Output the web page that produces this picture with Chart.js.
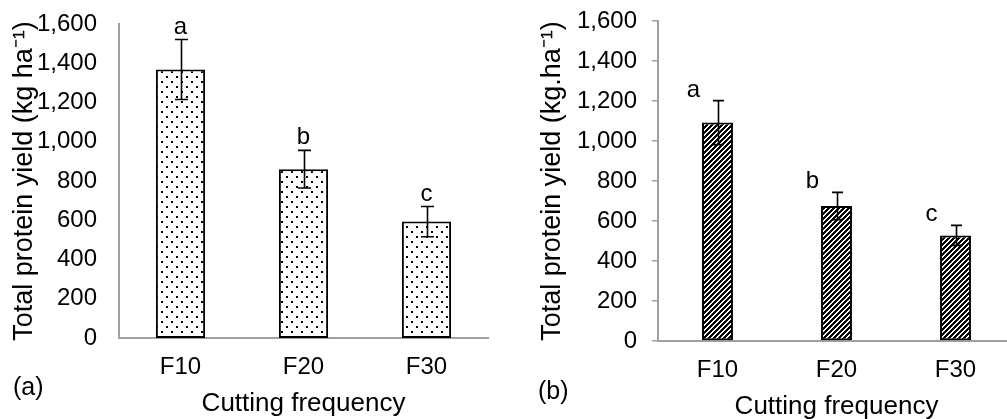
<!DOCTYPE html>
<html lang="en">
<head>
<meta charset="UTF-8">
<title>Total protein yield by cutting frequency</title>
<script src="https://cdn.jsdelivr.net/npm/chart.js"></script>
<style>
    html, body {
        margin: 0;
        padding: 0;
        background: #fff;
        overflow: hidden;
    }
    .panel {
        position: absolute;
        top: 0;
        height: 419px;
    }
    #panelA { left: 0; width: 500px; }
    #panelB { left: 500px; width: 520px; }
</style>
</head>
<body>
<div class="panel" id="panelA"><canvas id="chartA" width="500" height="419"></canvas></div>
<div class="panel" id="panelB"><canvas id="chartB" width="520" height="419"></canvas></div>

<script>
    // Données
    const categories = ['F10', 'F20', 'F30'];
    const yieldA = [1368, 860, 593];
    const errA = [153, 96, 77];
    const lettersA = ['a', 'b', 'c'];
    const yieldB = [1092, 675, 528];
    const errB = [110, 68, 50];
    const lettersB = ['a', 'b', 'c'];
    const yMin = 0, yMax = 1600, yStep = 200;

    const FONT = "'Liberation Sans', Arial, sans-serif";
    const AXIS_GREY = '#a0a0a0';

    function dotPattern() {
        const c = document.createElement('canvas');
        c.width = 10; c.height = 10;
        const g = c.getContext('2d');
        g.fillStyle = '#fff';
        g.fillRect(0, 0, 10, 10);
        g.fillStyle = '#000';
        g.fillRect(1, 1, 2, 2);
        g.fillRect(6, 6, 2, 2);
        return g.createPattern(c, 'repeat');
    }

    function hatchPattern() {
        const n = 5;
        const c = document.createElement('canvas');
        c.width = n; c.height = n;
        const g = c.getContext('2d');
        g.fillStyle = '#fff';
        g.fillRect(0, 0, n, n);
        g.fillStyle = '#000';
        for (let x = 0; x < n; x++) {
            for (let y = 0; y < n; y++) {
                if ((x + y) % n < 3) g.fillRect(x, y, 1, 1);
            }
        }
        return g.createPattern(c, 'repeat');
    }

    function withCommas(v) {
        return String(v).replace(/\B(?=(\d{3})+(?!\d))/g, ',');
    }

    // barres d'erreur + lettres + étiquette du panneau
    function extrasPlugin(errs, letters, opts) {
        return {
            id: 'extras',
            afterDatasetsDraw(chart) {
                const ctx = chart.ctx;
                const y = chart.scales.y;
                const meta = chart.getDatasetMeta(0);
                const values = chart.data.datasets[0].data;
                ctx.save();
                ctx.strokeStyle = '#000';
                ctx.lineWidth = 1.6;
                meta.data.forEach((bar, i) => {
                    const top = y.getPixelForValue(values[i] + errs[i]);
                    const bot = y.getPixelForValue(values[i] - errs[i]);
                    const x = Math.round(bar.x) + 0.5;
                    ctx.beginPath();
                    ctx.moveTo(x, top);
                    ctx.lineTo(x, bot);
                    ctx.moveTo(x - opts.cap, top);
                    ctx.lineTo(x + opts.cap, top);
                    ctx.moveTo(x - opts.cap, bot);
                    ctx.lineTo(x + opts.cap, bot);
                    ctx.stroke();

                    ctx.fillStyle = '#000';
                    ctx.font = '24px ' + FONT;
                    ctx.textAlign = 'center';
                    ctx.textBaseline = 'alphabetic';
                    ctx.fillText(letters[i], bar.x + opts.letterDx, top - opts.letterGap);
                });
                ctx.font = '25px ' + FONT;
                ctx.textAlign = 'left';
                ctx.textBaseline = 'middle';
                ctx.fillText(opts.panel, opts.panelX, opts.panelY);
                ctx.restore();
            }
        };
    }

    function makeChart(id, values, errs, letters, setup) {
        const ctx = document.getElementById(id).getContext('2d');
        return new Chart(ctx, {
            type: 'bar',
            data: {
                labels: categories,
                datasets: [{
                    data: values,
                    backgroundColor: setup.fill,
                    borderColor: '#000',
                    borderWidth: 2,
                    borderSkipped: false,
                    barPercentage: setup.barPct,
                    categoryPercentage: 1
                }]
            },
            options: {
                responsive: false,
                animation: false,
                layout: { padding: setup.padding },
                plugins: { legend: { display: false }, tooltip: { enabled: false } },
                scales: {
                    x: {
                        grid: { display: false, drawTicks: false },
                        border: { color: AXIS_GREY, width: 2 },
                        ticks: { color: '#000', font: { family: FONT, size: 24 }, padding: setup.xTickPad },
                        title: {
                            display: true,
                            text: 'Cutting frequency',
                            color: '#000',
                            font: { family: FONT, size: 26, lineHeight: 1 },
                            padding: { top: 0, bottom: setup.xTitlePad }
                        },
                        afterFit: s => { s.height = setup.xHeight; }
                    },
                    y: {
                        min: yMin,
                        max: yMax,
                        grid: setup.yGrid,
                        border: { color: AXIS_GREY, width: 2 },
                        ticks: {
                            stepSize: yStep,
                            color: '#000',
                            font: { family: FONT, size: 24 },
                            padding: setup.yTickPad,
                            callback: v => withCommas(v)
                        },
                        title: {
                            display: true,
                            text: setup.yTitle,
                            color: '#000',
                            font: { family: FONT, size: 27, lineHeight: 1 },
                            padding: { top: setup.yTitlePad, bottom: 0 }
                        },
                        afterFit: s => {
                            s.width = setup.yWidth;
                            // pas de marge auto au-dessus : la zone commence au padding choisi
                            s.paddingTop = 0;
                            s.paddingBottom = 0;
                        }
                    }
                }
            },
            plugins: [extrasPlugin(errs, letters, setup.extras)]
        });
    }

    makeChart('chartA', yieldA, errA, lettersA, {
        fill: dotPattern(),
        barPct: 0.4,
        padding: { left: 0, right: 12, top: 24, bottom: 0 },
        xHeight: 81,
        xTickPad: 15,
        xTitlePad: 2,
        yWidth: 119,
        yTickPad: 22,
        yTitlePad: 11,
        yTitle: 'Total protein yield (kg ha⁻¹)',
        yGrid: { display: false, drawTicks: false },
        extras: { cap: 6.5, letterDx: 0, letterGap: 6, panel: '(a)', panelX: 13, panelY: 388 }
    });

    makeChart('chartB', yieldB, errB, lettersB, {
        fill: hatchPattern(),
        barPct: 0.26,
        padding: { left: 0, right: 5, top: 21, bottom: 0 },
        xHeight: 78,
        xTickPad: 15,
        xTitlePad: -1,
        yWidth: 158,
        yTickPad: 15,
        yTitlePad: 39,
        yTitle: 'Total protein yield (kg.ha⁻¹)',
        yGrid: { drawOnChartArea: false, drawTicks: true, tickLength: 6, color: AXIS_GREY, lineWidth: 1.5 },
        extras: { cap: 5.5, letterDx: -24, letterGap: 4, panel: '(b)', panelX: 38, panelY: 392 }
    });
</script>
</body>
</html>
